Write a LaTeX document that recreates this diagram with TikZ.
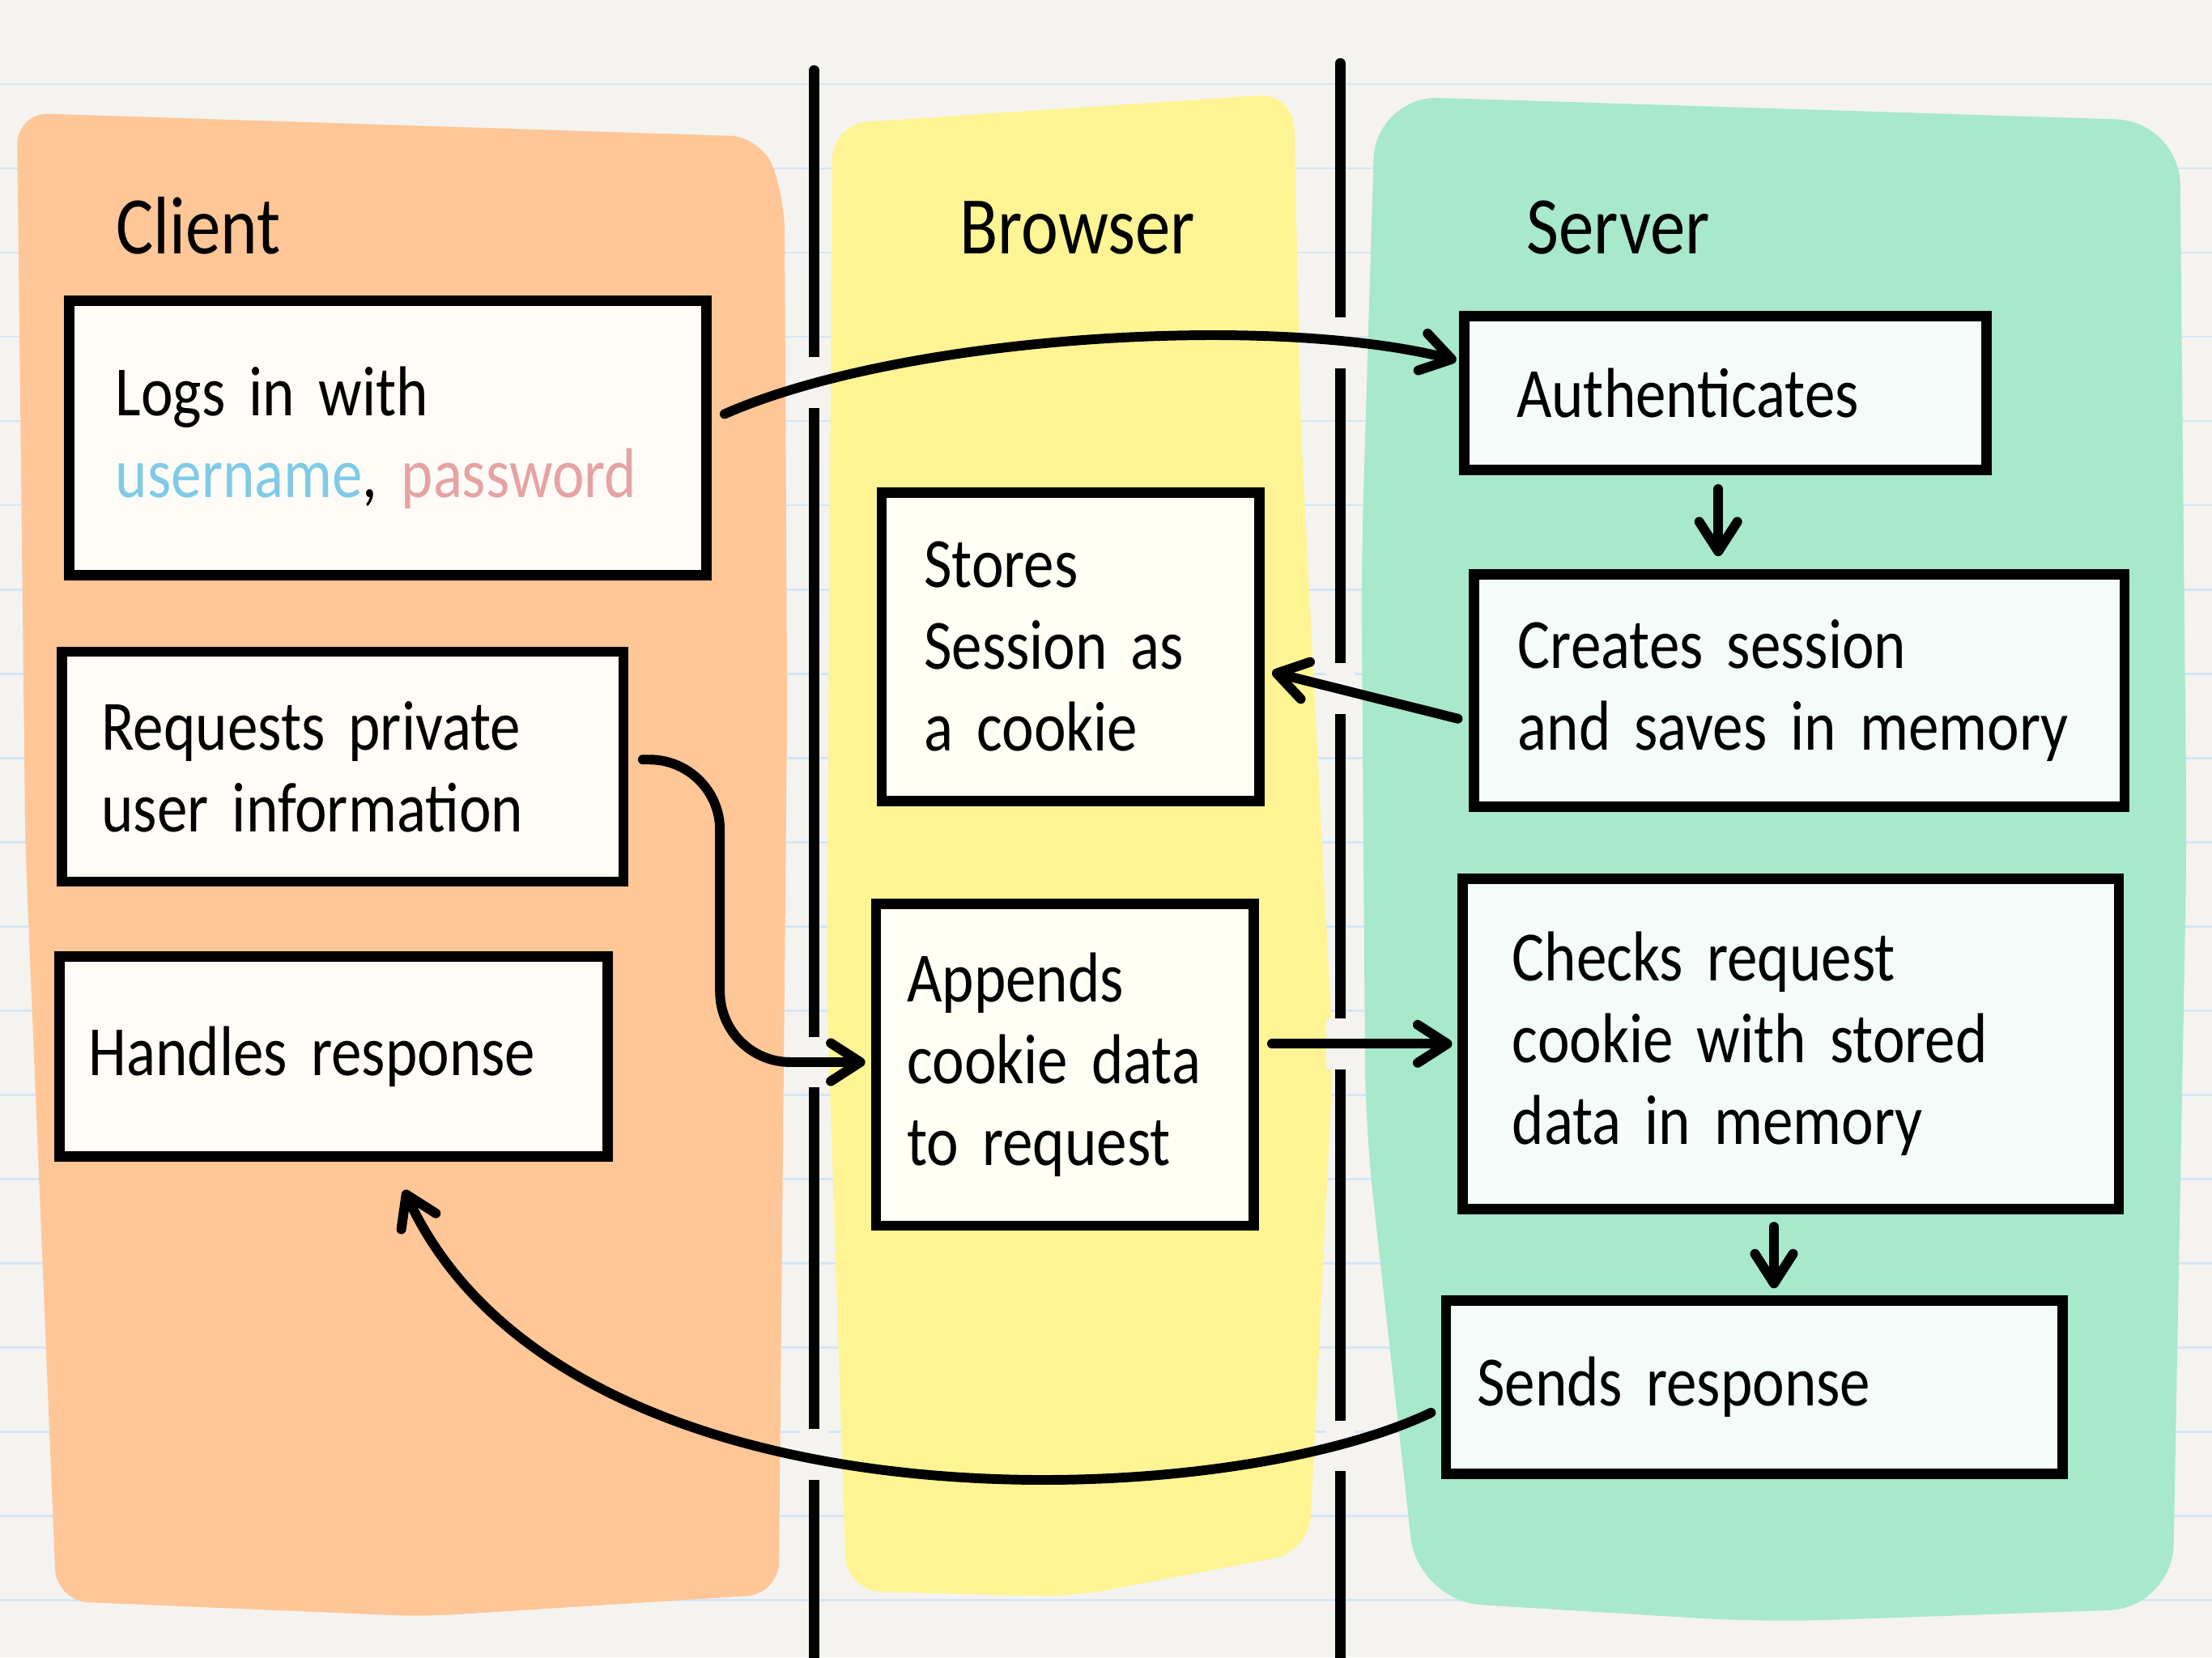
\documentclass[tikz,border=0pt]{standalone}
\usepackage{fontspec}
\setmainfont{Carlito}[FakeStretch=0.86,WordSpace=1.6]
\usetikzlibrary{arrows.meta,calc}

\definecolor{paper}{HTML}{F4F3F0}
\definecolor{rule}{HTML}{D5E5F5}
\definecolor{clientlane}{HTML}{FFC697}
\definecolor{browserlane}{HTML}{FFF494}
\definecolor{serverlane}{HTML}{A8E8CB}
\definecolor{clientcard}{HTML}{FFFCF8}
\definecolor{browsercard}{HTML}{FFFFF5}
\definecolor{servercard}{HTML}{F5FBF9}
\definecolor{uname}{HTML}{7FCBE7}
\definecolor{pword}{HTML}{E6A3A3}

\begin{document}
\begin{tikzpicture}
  [x=0.02cm,y=-0.02cm,
   card/.style={draw,line width=4.2pt,inner sep=0pt,align=left,
     font=\fontsize{28.5}{33}\selectfont},
   title/.style={anchor=base west,inner sep=0pt,font=\fontsize{33}{40}\selectfont},
   divider/.style={line width=4.3pt,line cap=round},
   flow/.style={line width=3.9pt,line cap=round,
     -{Straight Barb[length=4.2mm,width=5.4mm,round]}}]
  \fill[paper] (0,0) rectangle (1568,1175);
  \useasboundingbox (0,0) rectangle (1568,1175);
  \foreach \k in {1,...,19}
    \draw[rule,line width=0.9pt] (0,\k*59.7) -- (1568,\k*59.7);

  % lanes
  \fill[clientlane,rounded corners=0.45cm] (12,80) -- (540,97) -- (556,140) -- (558,500)
    -- (552,1130) -- (300,1146) -- (40,1135) -- (18,600) -- cycle;
  \fill[browserlane,rounded corners=0.5cm] (590,88) -- (917,66) -- (922,300)
    -- (945,750) -- (928,1100) -- (760,1132) -- (600,1128) -- (586,700) -- cycle;
  \fill[serverlane,rounded corners=0.9cm] (975,68) -- (1545,86) -- (1550,600)
    -- (1540,1140) -- (1250,1150) -- (1005,1135) -- (968,800) -- (965,400) -- cycle;

  \draw[divider] (577,50) -- (577,1175);
  \draw[divider] (950,45) -- (950,1175);
  \foreach \xx/\yy in {577/271,950/243,950/488,577/753,950/740,950/1025,577/1031}
    \fill[paper] (\xx-10,\yy-18) rectangle (\xx+10,\yy+18);

  \node[title] (tclient) at (82,180) {Client};
  \node[title] (tbrowser) at (680,180) {Browser};
  \node[title] (tserver) at (1082,180) {Server};

  \node[card,fill=clientcard,minimum width=9.04cm,minimum height=3.9cm,text width=7.72cm]
    (nlogin) at (275,310.5) {Logs in with\\\textcolor{uname}{username}, \textcolor{pword}{password}};
  \node[card,fill=clientcard,minimum width=7.96cm,minimum height=3.26cm,text width=6.84cm]
    (nreq) at (243,543.5) {Requests private\\user information};
  \node[card,fill=clientcard,minimum width=7.78cm,minimum height=2.84cm,text width=6.94cm]
    (nhandle) at (236.5,749) {Handles response};

  \node[card,fill=browsercard,minimum width=5.36cm,minimum height=4.38cm,text width=4.16cm]
    (nstore) at (759,458.5) {Stores\\Session as\\a cookie};
  \node[card,fill=browsercard,minimum width=5.36cm,minimum height=4.56cm,text width=4.48cm]
    (nappend) at (755,755) {Appends\\cookie data\\to request};

  \node[card,fill=servercard,minimum width=7.4cm,minimum height=2.18cm,text width=5.92cm]
    (nauth) at (1223,278.5) {Authenticates};
  \node[card,fill=servercard,minimum width=9.22cm,minimum height=3.3cm,text width=7.98cm]
    (ncreate) at (1275.5,489.5) {Creates session\\and saves in memory};
  \node[card,fill=servercard,minimum width=9.3cm,minimum height=4.68cm,text width=7.9cm]
    (ncheck) at (1269.5,740) {Checks request\\cookie with stored\\data in memory};
  \node[card,fill=servercard,minimum width=8.74cm,minimum height=2.46cm,text width=7.86cm]
    (nsend) at (1243.5,983.5) {Sends response};

  \draw[flow] ($(nlogin.east)+(9,-17)$) .. controls (640,238) and (900,222) .. ($(nauth.west)+(-2,-23)$);
  \draw[flow] ($(nauth.south)+(-5,10)$) -- ($(nauth.south |- ncreate.north)+(-5,-9)$);
  \draw[flow] ($(ncreate.west)+(-8,20)$) -- ($(nstore.east)+(5,18)$);
  \draw[flow,rounded corners=1cm] ($(nreq.east)+(10,-5)$) -| ($(nappend.west)+(-107,-2)$)
    -- ($(nappend.west)+(-4,-2)$);
  \draw[flow] ($(nappend.east)+(9,-15)$) -- ($(nappend.east -| ncheck.west)+(-4,-15)$);
  \draw[flow] ($(ncheck.south)+(-12,9)$) -- ($(ncheck.south |- nsend.north)+(-12,-5)$);
  \draw[flow] ($(nsend.west)+(-7,18)$) .. controls (860,1075) and (400,1090) .. ($(nhandle.south)+(50,20)$);
\end{tikzpicture}
\end{document}
